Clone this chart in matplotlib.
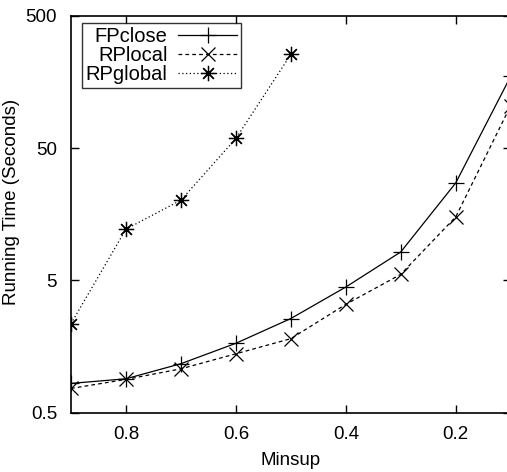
import matplotlib
matplotlib.use("Agg")
import matplotlib.pyplot as plt
from matplotlib.ticker import FixedLocator, FixedFormatter, NullLocator

plt.rcParams['font.family'] = ['Liberation Sans', 'DejaVu Sans']

minsup = [0.9, 0.8, 0.7, 0.6, 0.5, 0.4, 0.3, 0.2, 0.1]
fpclose = [0.83, 0.90, 1.17, 1.67, 2.57, 4.45, 8.2, 27.3, 175]
rplocal = [0.76, 0.89, 1.07, 1.39, 1.81, 3.29, 5.55, 15.1, 105]
minsup_global = [0.9, 0.8, 0.7, 0.6, 0.5]
rpglobal = [2.35, 12.2, 20.2, 59.2, 256]

yticks = [0.5, 5, 50, 500]
ytick_labels = ["0.5", "5", "50", "500"]
xticks = [0.8, 0.6, 0.4, 0.2]
xtick_labels = ["0.8", "0.6", "0.4", "0.2"]

fig = plt.figure(figsize=(5.07, 4.72), dpi=100)
ax = fig.add_axes([71/507, (472-412.5)/472, (510.7-71)/507, (412.5-16)/472])

fs = 13.5
ax.plot(minsup, fpclose, color='black', lw=0.9, ls='-', marker='+', ms=11, mew=0.9, label='FPclose')
ax.plot(minsup, rplocal, color='black', lw=0.9, ls=(0, (3, 2.5)), marker='x', ms=10, mew=0.9, label='RPlocal')
ax.plot(minsup_global, rpglobal, color='black', lw=0.9, ls=(0, (1, 2)), marker=(8, 2, 0), ms=11, mew=0.9, label='RPglobal')

ax.set_yscale('log')
ax.set_xlim(0.9, 0.1)
ax.set_ylim(0.5, 500)
ax.yaxis.set_major_locator(FixedLocator(yticks))
ax.yaxis.set_major_formatter(FixedFormatter(ytick_labels))
ax.yaxis.set_minor_locator(NullLocator())
ax.xaxis.set_major_locator(FixedLocator(xticks))
ax.xaxis.set_major_formatter(FixedFormatter(xtick_labels))

ax.tick_params(axis='both', which='major', direction='in', length=6, width=1,
               top=True, right=True, labelsize=fs, pad=10)
for s in ax.spines.values():
    s.set_linewidth(1.2)

ax.set_xlabel('Minsup', fontsize=fs, labelpad=6)
ax.set_ylabel('Running Time (Seconds)', fontsize=fs)
ax.yaxis.set_label_coords((20 - 71) / 439.7, (412.5 - 202) / 396.5)

leg = ax.legend(loc='upper left', bbox_to_anchor=(10.5/439.7, (412.5-22.7)/396.5),
                markerfirst=False, fontsize=14.5, frameon=True, fancybox=False,
                handlelength=2.9, handletextpad=0.55, labelspacing=0.0,
                borderpad=0.2, borderaxespad=0)
leg.get_frame().set_edgecolor('black')
leg.get_frame().set_linewidth(1.0)

fig.savefig('out.png', dpi=100)
